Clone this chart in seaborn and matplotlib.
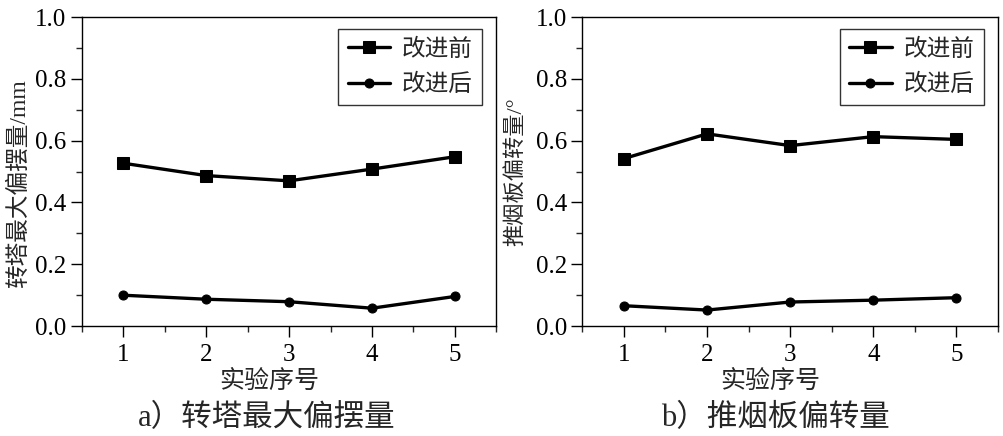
import numpy as np
import pandas as pd
import matplotlib
matplotlib.use('Agg')
import matplotlib.pyplot as plt
from matplotlib.ticker import MultipleLocator, FormatStrFormatter
import seaborn as sns

# 数据
trials = [1, 2, 3, 4, 5]
series_names = ['改进前', '改进后']
turret_before = [0.527, 0.487, 0.470, 0.508, 0.548]
turret_after = [0.100, 0.087, 0.079, 0.058, 0.096]
pusher_before = [0.542, 0.622, 0.584, 0.613, 0.604]
pusher_after = [0.066, 0.052, 0.078, 0.084, 0.092]

ylabels = ['转塔最大偏摆量/mm', '推烟板偏转量/°']
xlabel = '实验序号'
captions = ['a）转塔最大偏摆量', 'b）推烟板偏转量']

sns.set_theme(style='ticks')
plt.rcParams['font.family'] = ['Liberation Serif', 'Noto Sans CJK SC', 'DejaVu Sans']
plt.rcParams['axes.unicode_minus'] = False

fig = plt.figure(figsize=(10.04, 4.36), dpi=100)
ax1 = fig.add_axes([0.0814, 0.252, 0.413, 0.709])
ax2 = fig.add_axes([0.580, 0.252, 0.414, 0.709])

panels = [(ax1, turret_before, turret_after, ylabels[0], 17, -0.152, 0.46),
          (ax2, pusher_before, pusher_after, ylabels[1], 16, -0.159, 0.5)]

for ax, before, after, ylab, yfs, lx, ly in panels:
    df = pd.DataFrame({'trial': trials + trials,
                       'value': before + after,
                       'group': [series_names[0]] * 5 + [series_names[1]] * 5})
    sns.lineplot(data=df[df.group == series_names[0]], x='trial', y='value',
                 color='black', lw=2.4, marker='s', markersize=8,
                 markeredgecolor='black', label=series_names[0], ax=ax)
    sns.lineplot(data=df[df.group == series_names[1]], x='trial', y='value',
                 color='black', lw=2.4, marker='o', markersize=6.5,
                 markeredgecolor='black', label=series_names[1], ax=ax)

    ax.set_xlim(0.5, 5.5)
    ax.set_ylim(0, 1.0)
    ax.xaxis.set_major_locator(MultipleLocator(1))
    ax.xaxis.set_minor_locator(MultipleLocator(0.5))
    ax.yaxis.set_major_locator(MultipleLocator(0.2))
    ax.yaxis.set_minor_locator(MultipleLocator(0.1))
    ax.yaxis.set_major_formatter(FormatStrFormatter('%.1f'))
    ax.tick_params(which='major', direction='out', length=8, width=1,
                   labelsize=18, colors='black')
    ax.tick_params(which='minor', direction='out', length=4, width=1)
    ax.tick_params(axis='x', pad=5)
    ax.tick_params(axis='y', pad=3)
    for _, spine in ax.spines.items():
        spine.set_visible(True)
        spine.set_linewidth(1)
        spine.set_color('black')

    ax.set_xlabel(xlabel, fontsize=18, va='top')
    ax.xaxis.set_label_coords(0.452, -0.14)
    ax.set_ylabel(ylab, fontsize=yfs, va='center')
    ax.yaxis.set_label_coords(lx, ly)

    leg = ax.legend(loc='upper right', fontsize=17, frameon=True, fancybox=False,
                    edgecolor='black', handlelength=1.8, borderpad=0.4,
                    labelspacing=0.55, handletextpad=0.5, borderaxespad=0,
                    bbox_to_anchor=(0.966, 0.961))
    leg.get_frame().set_linewidth(1)

fig.text(0.266, 0.041, captions[0], fontsize=22, ha='center', va='center')
fig.text(0.772, 0.041, captions[1], fontsize=22, ha='center', va='center')

plt.savefig('out.png', dpi=100)
